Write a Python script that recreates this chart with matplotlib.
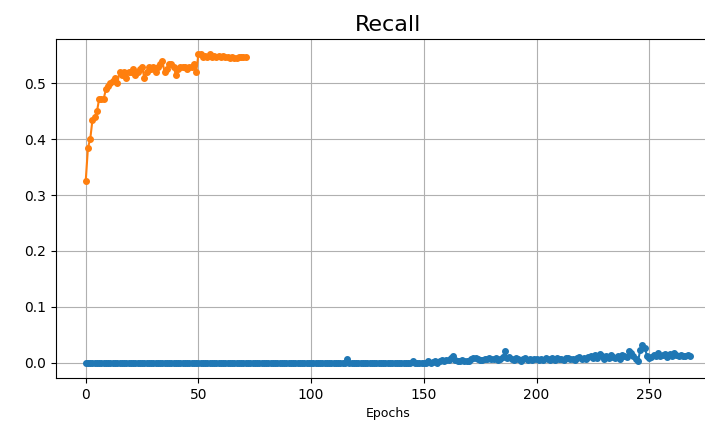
import matplotlib
matplotlib.use("Agg")
import matplotlib.pyplot as plt
import numpy as np

title = "Recall"
xlabel = "Epochs"

# Orange series (epochs 0-71)
recall_b = [0.325, 0.385, 0.400, 0.435, 0.440, 0.450, 0.473, 0.473, 0.473, 0.490,
            0.495, 0.500, 0.505, 0.510, 0.500, 0.520, 0.515, 0.520, 0.510, 0.520,
            0.520, 0.525, 0.515, 0.520, 0.525, 0.530, 0.510, 0.520, 0.530, 0.525,
            0.530, 0.520, 0.530, 0.535, 0.540, 0.520, 0.525, 0.535, 0.535, 0.530,
            0.515, 0.525, 0.530, 0.530, 0.530, 0.525, 0.530, 0.530, 0.535, 0.520,
            0.552, 0.552, 0.548, 0.550, 0.548, 0.552, 0.548, 0.550, 0.548, 0.550,
            0.548, 0.550, 0.548, 0.548, 0.546, 0.548, 0.545, 0.546, 0.547, 0.547,
            0.547, 0.547]

# Blue series (epochs 0-268)
recall_a = (
    [0.0] * 116 + [0.006] + [0.0] * 28 + [0.002] + [0.0] * 4 +
    [0.0, 0.0, 0.002, 0.0, 0.001, 0.002, 0.0, 0.003, 0.004, 0.003,
     0.005, 0.004, 0.008, 0.011, 0.004, 0.003, 0.002, 0.005, 0.002, 0.003,
     0.002, 0.006, 0.009, 0.008, 0.006, 0.005, 0.004, 0.007, 0.006, 0.008,
     0.007, 0.006, 0.008, 0.005, 0.006, 0.010, 0.020, 0.008, 0.010, 0.006,
     0.004, 0.008, 0.006, 0.003, 0.007, 0.008, 0.004, 0.006, 0.005, 0.007,
     0.006, 0.004, 0.007, 0.005, 0.008, 0.006, 0.005, 0.009, 0.004, 0.008,
     0.006, 0.007, 0.005, 0.008, 0.009, 0.006, 0.007, 0.005, 0.009, 0.010,
     0.007, 0.008, 0.006, 0.010, 0.012, 0.008, 0.014, 0.009, 0.016, 0.011,
     0.007, 0.012, 0.009, 0.013, 0.010, 0.008, 0.011, 0.006, 0.014, 0.012,
     0.010, 0.020, 0.017, 0.012, 0.006, 0.002, 0.022, 0.032, 0.027, 0.012,
     0.008, 0.010, 0.014, 0.012, 0.018, 0.011, 0.013, 0.015, 0.010, 0.016,
     0.012, 0.018, 0.013, 0.011, 0.014, 0.012, 0.011, 0.013, 0.011]
)

fig = plt.figure(figsize=(7.05, 4.32), dpi=100)
ax = fig.add_axes([55.5 / 705, 54 / 432, (720 - 55.5) / 705, (378 - 39) / 432])
ax.plot(np.arange(len(recall_a)), recall_a, '.-', color='#1f77b4', ms=8, lw=1.5)
ax.plot(np.arange(len(recall_b)), recall_b, '.-', color='#ff7f0e', ms=8, lw=1.5)
ax.set_title(title, fontsize=16)
ax.set_xlabel(xlabel, fontsize=9)
ax.grid(True)
ax.spines['right'].set_visible(False)
fig.savefig("out.png", dpi=100)
